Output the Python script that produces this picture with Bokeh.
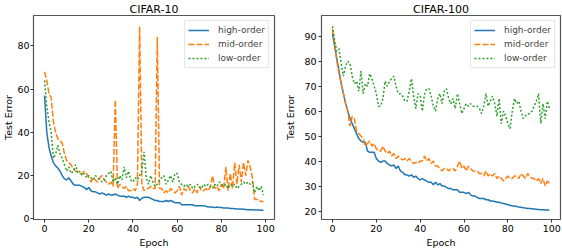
from bokeh.plotting import figure
from bokeh.layouts import row
from bokeh.models import FixedTicker
from bokeh.embed import file_html
from bokeh.resources import INLINE

epochs = list(range(100))

c10_high = [57, 40, 33, 29, 26, 24.5, 23.5, 22, 20, 18.5, 18, 19, 17.5, 16, 15.5, 15.5, 15.5, 15, 14.5, 13.5,
            14.5, 13, 12.5, 12.5, 12, 11.5, 12, 11.5, 11, 11.5, 11, 11, 11.5, 11, 10.5, 10.5, 10.5, 10, 10.5, 10,
            10, 9.5, 10, 8.5, 9.5, 10, 10, 10, 9.5, 9, 8.5, 8.5, 8, 8, 8, 8.5, 8, 8.5, 8, 7.5,
            7.5, 7.5, 6.5, 6.5, 6.5, 6.5, 6.5, 6.5, 6, 6, 6, 6, 6, 5.8, 5.5, 5.5, 5.5, 5.2, 5.5, 5.2,
            5.2, 5, 5, 5, 4.8, 4.8, 4.7, 4.6, 4.5, 4.5, 4.4, 4.3, 4.2, 4.2, 4.2, 4.1, 4.1, 4.1, 4, 4]
c10_mid = [68, 64, 58, 56, 45, 40, 37, 36, 35, 30, 27, 26, 25, 23, 22, 22, 21, 21, 22, 21,
           19, 17, 19, 18, 17, 19, 20, 18, 17, 16, 17, 15, 55, 14, 16, 15, 14, 15, 13, 13,
           14, 13, 16, 89, 16, 13, 14, 14, 15, 14, 14, 84, 14, 14, 12, 13, 12, 14, 13, 12,
           13, 15, 11, 14, 13, 15, 13, 12, 14, 12, 15, 13, 13, 14, 13, 15, 20, 14, 15, 13,
           16, 14, 24, 13, 21, 14, 26, 16, 25, 17, 26, 20, 27, 24, 19, 9, 9, 8.5, 8, 8]
c10_low = [64, 52, 45, 40, 28, 30, 34, 30, 28, 25, 22, 24, 21, 22, 25, 21, 22, 20, 21, 19,
           20, 19, 18, 20, 19, 18, 17, 18, 20, 21, 22, 17, 19, 16, 20, 18, 24, 19, 22, 18,
           17, 19, 18, 20, 22, 31, 19, 16, 20, 17, 15, 16, 18, 19, 20, 16, 18, 20, 17, 21,
           21, 17, 16, 15, 16, 15, 16, 14, 15, 16, 15, 14, 16, 15, 16, 15, 14, 16, 15, 17,
           16, 15, 16, 14, 16, 15, 16, 14, 15, 16, 17, 16, 17, 16, 17, 12, 15, 13, 15, 11]

c100_high = [91, 86, 81, 76, 71, 67, 63, 60, 57, 55, 53, 51, 49, 48, 47.5, 47.5, 44, 43.5, 43.5, 43.5,
             41, 40, 39.5, 40, 40, 39, 38.5, 38, 38.5, 37, 38, 36, 35.5, 34.5, 34.5, 34, 34.5, 33.5, 34, 33,
             32.5, 33, 32.5, 32, 31.5, 31.5, 30.5, 31.5, 30.5, 31, 30, 30, 29.5, 29, 29, 28.5, 28.5, 28.5, 27.5, 27.5,
             27.5, 27, 27.5, 26.5, 26, 26, 25.5, 25, 25, 25, 24.5, 24.5, 24, 24, 23.8, 23.5, 23.5, 23.2, 23, 22.8,
             22.5, 22.3, 22, 22, 21.8, 21.6, 21.5, 21.3, 21.2, 21, 21, 20.9, 20.8, 20.7, 20.6, 20.5, 20.5, 20.4, 20.4, 20.3]
c100_mid = [93, 87, 80, 75, 71, 67, 63, 60, 54, 58, 57, 52, 51, 50, 49, 46, 47, 48, 46, 47,
            45, 44, 44, 46, 44, 43, 44, 42, 43, 41, 42, 41, 40.5, 41, 40, 41, 40, 39, 39.5, 39,
            40, 40, 42, 40, 41, 39, 40, 38, 38, 37, 36, 37, 37, 36, 37, 37, 36, 38, 40, 37,
            38, 36, 38, 37, 36, 36, 36, 35, 35, 34, 36, 34, 35, 34, 35, 33, 34, 33, 32, 33,
            34, 33, 33, 34, 34, 33, 35, 34, 33, 35, 34, 33, 33, 32, 33, 31, 33, 30, 32, 31]
c100_low = [94, 88, 84, 85, 79, 74, 78, 80, 79, 74, 71, 72, 68, 76, 67, 71, 70, 75, 73, 70,
            67, 62, 62, 65, 72, 70, 72, 73, 74, 70, 67, 67, 66, 64, 64, 68, 73, 66, 61, 67,
            66, 60, 67, 69, 69, 66, 62, 60, 65, 67, 63, 68, 69, 65, 63, 65, 61, 67, 63, 59,
            61, 63, 62, 63, 62, 62, 62, 61, 59, 62, 67, 62, 64, 66, 63, 58, 65, 55, 60, 58,
            55, 53, 60, 65, 63, 64, 60, 57, 58, 59, 59, 60, 62, 64, 67, 55, 63, 57, 64, 61]

series_names = ["high-order", "mid-order", "low-order"]
colors = ["#1f77b4", "#ff7f0e", "#2ca02c"]
dashes = ["solid", "6 2", "2 2"]

FONT = "DejaVu Sans"


def make(title, data, yrange, yticks, width, left, right, ylab_standoff, ytick_standoff):
    p = figure(width=width, height=250, output_backend="svg", toolbar_location=None,
               x_range=(-5, 104), y_range=yrange,
               min_border_left=left, min_border_right=right,
               min_border_top=14, min_border_bottom=30)
    p.title.text = title
    p.title.align = "center"
    p.title.text_font = FONT
    p.title.text_font_size = "11px"
    p.title.text_font_style = "normal"
    p.title.text_color = "black"
    p.title.text_line_height = 0.8
    p.title.standoff = 0
    for ys, name, c, d in zip(data, series_names, colors, dashes):
        p.line(epochs, ys, line_color=c, line_width=1.5, line_dash=d, legend_label=name)
    p.xgrid.visible = False
    p.ygrid.visible = False
    p.outline_line_color = "#555555"
    p.outline_line_width = 1.2
    p.outline_line_alpha = 1
    p.xaxis.ticker = FixedTicker(ticks=[0, 20, 40, 60, 80, 100])
    p.yaxis.ticker = FixedTicker(ticks=yticks)
    p.xaxis.axis_label = "Epoch"
    p.yaxis.axis_label = "Test Error"
    for ax in (p.xaxis[0], p.yaxis[0]):
        ax.axis_line_color = None
        ax.major_tick_line_color = "#333333"
        ax.major_tick_in = 0
        ax.major_tick_out = 3
        ax.minor_tick_line_color = None
        ax.major_label_standoff = 2
        ax.axis_label_standoff = 2
        ax.major_label_text_font = FONT
        ax.major_label_text_font_size = "9.5px"
        ax.major_label_text_line_height = 1.0
        ax.major_label_text_color = "black"
        ax.axis_label_text_font = FONT
        ax.axis_label_text_font_size = "9.5px"
        ax.axis_label_text_line_height = 1.0
        ax.axis_label_text_font_style = "normal"
        ax.axis_label_text_color = "black"
    p.yaxis[0].axis_label_standoff = ylab_standoff
    p.yaxis[0].major_label_standoff = ytick_standoff
    lg = p.legend[0]
    lg.location = "top_right"
    lg.label_text_font = FONT
    lg.label_text_font_size = "9px"
    lg.label_height = 12
    lg.glyph_height = 12
    lg.glyph_width = 21
    lg.spacing = 2
    lg.padding = 3
    lg.margin = 5
    lg.label_standoff = 9
    lg.border_line_color = "#cccccc"
    lg.border_line_width = 1
    lg.background_fill_alpha = 0.85
    return p


p1 = make("CIFAR-10", [c10_high, c10_mid, c10_low], (-0.3, 94), [0, 20, 40, 60, 80],
          281, 32, 7, 0, 1)
p2 = make("CIFAR-100", [c100_high, c100_mid, c100_low], (16.6, 98.3), [20, 30, 40, 50, 60, 70, 80, 90],
          281, 40, 2, 5, 2)

layout = row(p1, p2)
open("out.html", "w").write(file_html(layout, INLINE))
